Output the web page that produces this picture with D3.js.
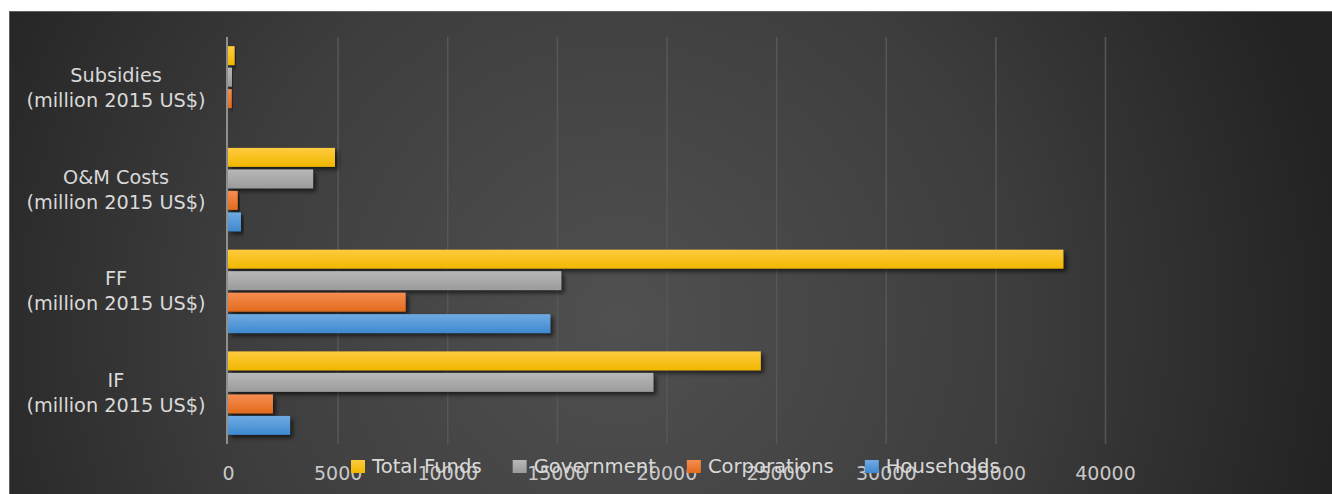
<!DOCTYPE html>
<html>
<head>
<meta charset="utf-8">
<script src="https://cdn.jsdelivr.net/npm/d3@7"></script>
<style>
  html, body { margin: 0; padding: 0; background: #ffffff; }
  svg { display: block; }
</style>
</head>
<body>
<svg id="chart" width="1332" height="494"></svg>
<script>
// ---- data ----
const categories = ["Subsidies", "O&M Costs", "FF", "IF"];
const seriesNames = ["Total Funds", "Government", "Corporations", "Households"];
const totalFunds   = [300, 4880, 38100, 24300];
const government   = [180, 3880, 15200, 19400];
const corporations = [170, 440, 8100, 2050];
const households   = [0, 590, 14700, 2830];
const xTickValues  = [0, 5000, 10000, 15000, 20000, 25000, 30000, 35000, 40000];
const unitLine = "(million 2015 US$)";

const seriesValues = [totalFunds, government, corporations, households];
const colorsTop    = ["#ffcb3f", "#b8b8b8", "#f68d50", "#70abe3"];
const colorsBottom = ["#f1b700", "#9b9b9b", "#e36b1c", "#3e89cf"];

const W = 1332, H = 494;
const svg = d3.select("#chart");
const defs = svg.append("defs");

// background gradient
const bg = defs.append("radialGradient").attr("id", "bgGrad")
  .attr("gradientUnits", "userSpaceOnUse")
  .attr("cx", 620).attr("cy", 320).attr("r", 720);
bg.append("stop").attr("offset", "0").attr("stop-color", "#505050");
bg.append("stop").attr("offset", "0.55").attr("stop-color", "#3d3d3d");
bg.append("stop").attr("offset", "1").attr("stop-color", "#232323");

seriesNames.forEach((s, i) => {
  const g = defs.append("linearGradient").attr("id", "bar" + i)
    .attr("x1", 0).attr("y1", 0).attr("x2", 0).attr("y2", 1);
  g.append("stop").attr("offset", "0").attr("stop-color", colorsTop[i]);
  g.append("stop").attr("offset", "1").attr("stop-color", colorsBottom[i]);
});

const shadow = defs.append("filter").attr("id", "shadow")
  .attr("x", "-10%").attr("y", "-30%").attr("width", "130%").attr("height", "180%");
shadow.append("feDropShadow").attr("dx", 3).attr("dy", 3).attr("stdDeviation", 2.2)
  .attr("flood-color", "#000").attr("flood-opacity", 0.6);

svg.append("rect").attr("x", 9.5).attr("y", 11.5).attr("width", W - 9).attr("height", H - 11)
  .attr("fill", "url(#bgGrad)").attr("stroke", "#5e5e5e").attr("stroke-width", 1);

// scales
const x = d3.scaleLinear().domain([0, 40000]).range([228, 1105]);
const y = d3.scaleBand().domain(categories).range([37, 444]).paddingInner(0.18).paddingOuter(0.09);
const yInner = d3.scaleBand().domain(seriesNames).range([0, y.bandwidth()]).paddingInner(0.12);

// gridlines via axis
const grid = svg.append("g").attr("transform", "translate(0,444)")
  .call(d3.axisBottom(x).tickValues(xTickValues).tickSize(-407).tickFormat(""));
grid.select(".domain").remove();
grid.selectAll(".tick line").attr("stroke", "#575757").attr("stroke-width", 1.5);
grid.selectAll(".tick").filter(d => d === 0).remove();

// bars
const groups = svg.append("g").selectAll("g").data(categories).join("g")
  .attr("transform", d => `translate(0,${y(d)})`);
groups.each(function(cat, ci) {
  d3.select(this).selectAll("rect").data(seriesNames.map((s, si) => ({s, si, v: seriesValues[si][ci]})))
    .join("rect")
    .filter(d => d.v > 0)
    .attr("x", x(0))
    .attr("y", d => yInner(d.s))
    .attr("width", d => x(d.v) - x(0))
    .attr("height", yInner.bandwidth())
    .attr("fill", d => `url(#bar${d.si})`)
    .attr("filter", "url(#shadow)");
});

// vertical axis line
svg.append("line").attr("x1", x(0) - 1).attr("x2", x(0) - 1).attr("y1", 37).attr("y2", 444)
  .attr("stroke", "#8f8f8f").attr("stroke-width", 2);

// x tick labels
const xAxis = svg.append("g").attr("transform", "translate(0,444)")
  .call(d3.axisBottom(x).tickValues(xTickValues).tickSize(0).tickPadding(0).tickFormat(d3.format("d")));
xAxis.select(".domain").remove();
xAxis.selectAll("text").attr("y", 36).attr("dy", null)
  .attr("font-family", "DejaVu Sans").attr("font-size", 19).attr("fill", "#c8c8c8");

// category labels
const catLabels = svg.append("g").selectAll("text").data(categories).join("text")
  .attr("text-anchor", "middle")
  .attr("font-family", "DejaVu Sans").attr("font-size", 19.3).attr("fill", "#d9d9d9")
  .attr("x", 116)
  .attr("y", d => y(d) + y.bandwidth() / 2);
catLabels.append("tspan").attr("x", 116).attr("dy", -6).text(d => d);
catLabels.append("tspan").attr("x", 116).attr("dy", 25).text(unitLine);

// legend
const legend = svg.append("g");
let lx = 351;
seriesNames.forEach((s, i) => {
  legend.append("rect").attr("x", lx).attr("y", 460).attr("width", 14).attr("height", 13)
    .attr("fill", `url(#bar${i})`);
  const t = legend.append("text").attr("x", lx + 21).attr("y", 473)
    .attr("font-family", "DejaVu Sans").attr("font-size", 19.6).attr("fill", "#d9d9d9")
    .text(s);
  lx += 21 + t.node().getComputedTextLength() + 31;
});
</script>
</body>
</html>
